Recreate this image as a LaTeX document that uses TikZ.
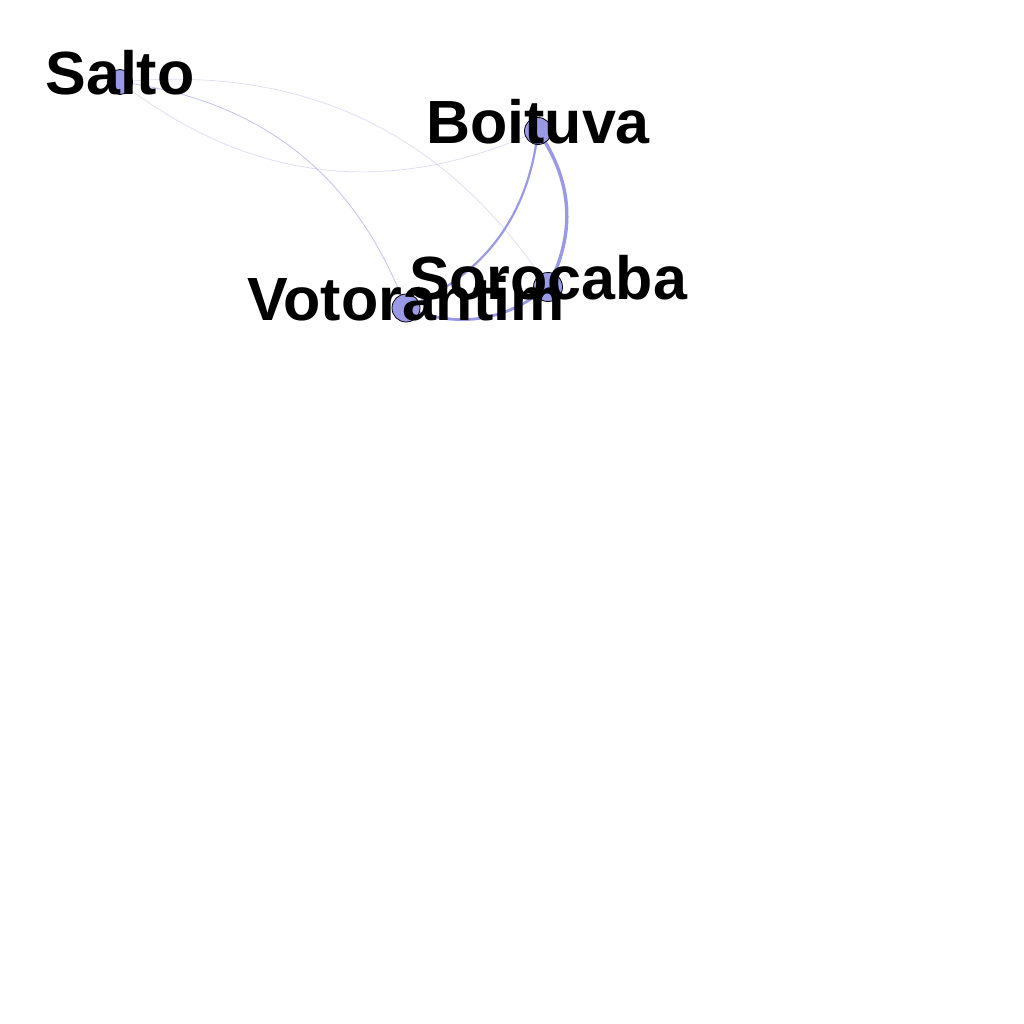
\documentclass[tikz,border=0pt]{standalone}
\usepackage{fontspec}
\setmainfont{Liberation Sans}
\usetikzlibrary{backgrounds}
\definecolor{vertexcol}{RGB}{153,153,230}
\begin{document}
\begin{tikzpicture}[x=1pt, y=-1pt,
  vertex/.style={circle, draw=black, line width=0.8pt, fill=vertexcol, inner sep=0pt},
  town/.style={anchor=base, inner sep=0pt, font=\fontsize{61}{61}\selectfont\bfseries},
  link/.style={draw=vertexcol, line cap=round}]
\useasboundingbox (0,0) rectangle (1024,1024);

\node[vertex, minimum size=25pt] (salto) at (120,82) {};
\node[vertex, minimum size=27pt] (boituva) at (538,131) {};
\node[vertex, minimum size=29pt] (sorocaba) at (548,287) {};
\node[vertex, minimum size=28pt] (votorantim) at (406,308) {};

\begin{pgfonlayer}{background}
  \fill[white] (0,0) rectangle (1024,1024);
  \draw[link, line width=0.7pt, draw opacity=0.35] (salto.center) to[bend right=31] (boituva.center);
  \draw[link, line width=0.7pt, draw opacity=0.35] (salto.center) to[bend left=31] (sorocaba.center);
  \draw[link, line width=0.8pt, draw opacity=0.6] (salto.center) to[bend left=31] (votorantim.center);
  \draw[link, line width=3.4pt] (boituva.center) to[bend left=31] (sorocaba.center);
  \draw[link, line width=2.2pt] (boituva.center) to[bend left=30] (votorantim.center);
  \draw[link, line width=2.8pt] (votorantim.center) to[bend right=30] (sorocaba.center);
\end{pgfonlayer}

\node[town] (saltotext) at ([yshift=-12.5pt]salto.center) {Salto};
\node[town] (boituvatext) at ([yshift=-12.5pt]boituva.center) {Boituva};
\node[town] (votorantimtext) at ([yshift=-12.5pt]votorantim.center) {Votorantim};
\node[town] (sorocabatext) at ([yshift=-12.5pt]sorocaba.center) {Sorocaba};

\end{tikzpicture}
\end{document}
